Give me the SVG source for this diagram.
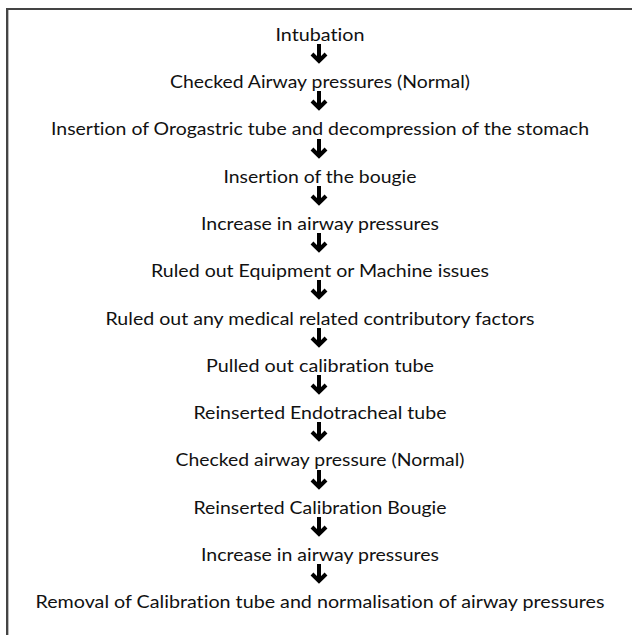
<svg xmlns="http://www.w3.org/2000/svg" width="632" height="635" viewBox="0 0 632 635">
<style>
.t{font-family:Lato,"Open Sans","Liberation Sans",sans-serif;font-size:17.5px;fill:#111;text-anchor:middle;font-variant-ligatures:none;font-feature-settings:"liga" 0,"clig" 0}
.a{fill:none;stroke:#000;stroke-width:4;stroke-linejoin:miter;stroke-linecap:butt}
</style>
<rect width="632" height="635" fill="#fff"/>
<g id="frame">
<line x1="7" y1="9" x2="632" y2="9" stroke="#444" stroke-width="2"/>
<line x1="7" y1="8" x2="7" y2="635" stroke="#444" stroke-width="2"/>
<line x1="8.5" y1="10" x2="8.5" y2="635" stroke="#bbb" stroke-width="1"/>
</g>
<g id="n1"><text class="t" x="320" y="41" textLength="89" lengthAdjust="spacingAndGlyphs">Intubation</text></g>
<g id="n2"><text class="t" x="320" y="88" textLength="300" lengthAdjust="spacingAndGlyphs">Checked Airway pressures (Normal)</text></g>
<g id="n3"><text class="t" x="320" y="135" textLength="538" lengthAdjust="spacingAndGlyphs">Insertion of Orogastric tube and decompression of the stomach</text></g>
<g id="n4"><text class="t" x="320" y="183" textLength="193" lengthAdjust="spacingAndGlyphs">Insertion of the bougie</text></g>
<g id="n5"><text class="t" x="320" y="230" textLength="238" lengthAdjust="spacingAndGlyphs">Increase in airway pressures</text></g>
<g id="n6"><text class="t" x="320" y="277" textLength="338" lengthAdjust="spacingAndGlyphs">Ruled out Equipment or Machine issues</text></g>
<g id="n7"><text class="t" x="320" y="325" textLength="429" lengthAdjust="spacingAndGlyphs">Ruled out any medical related contributory factors</text></g>
<g id="n8"><text class="t" x="320" y="372" textLength="228" lengthAdjust="spacingAndGlyphs">Pulled out calibration tube</text></g>
<g id="n9"><text class="t" x="320" y="419" textLength="253" lengthAdjust="spacingAndGlyphs">Reinserted Endotracheal tube</text></g>
<g id="n10"><text class="t" x="320" y="466" textLength="289" lengthAdjust="spacingAndGlyphs">Checked airway pressure (Normal)</text></g>
<g id="n11"><text class="t" x="320" y="514" textLength="253" lengthAdjust="spacingAndGlyphs">Reinserted Calibration Bougie</text></g>
<g id="n12"><text class="t" x="320" y="561" textLength="238" lengthAdjust="spacingAndGlyphs">Increase in airway pressures</text></g>
<g id="n13"><text class="t" x="320" y="608" textLength="569" lengthAdjust="spacingAndGlyphs">Removal of Calibration tube and normalisation of airway pressures</text></g>
<g id="connectors">
<path class="a" d="M319 44V61M312 54L319 61L326 54"/>
<path class="a" d="M319 91V108M312 101L319 108L326 101"/>
<path class="a" d="M319 139V156M312 149L319 156L326 149"/>
<path class="a" d="M319 186V203M312 196L319 203L326 196"/>
<path class="a" d="M319 233V250M312 243L319 250L326 243"/>
<path class="a" d="M319 280V297M312 290L319 297L326 290"/>
<path class="a" d="M319 328V345M312 338L319 345L326 338"/>
<path class="a" d="M319 375V392M312 385L319 392L326 385"/>
<path class="a" d="M319 422V439M312 432L319 439L326 432"/>
<path class="a" d="M319 470V487M312 480L319 487L326 480"/>
<path class="a" d="M319 517V534M312 527L319 534L326 527"/>
<path class="a" d="M319 564V581M312 574L319 581L326 574"/>
</g>
</svg>
